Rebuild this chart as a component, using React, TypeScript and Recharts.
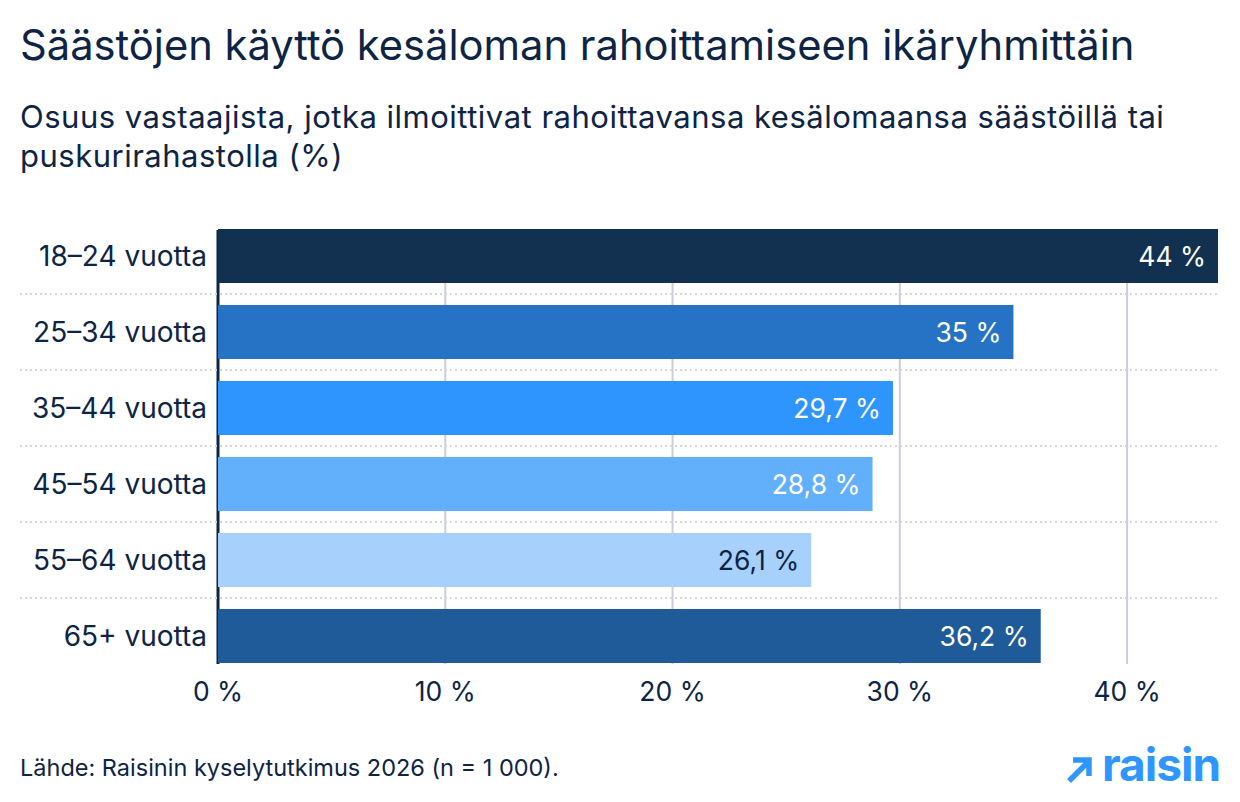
import { BarChart, Bar, XAxis, YAxis, CartesianGrid, Cell, LabelList } from 'recharts';

const categories = ['18–24 vuotta', '25–34 vuotta', '35–44 vuotta', '45–54 vuotta', '55–64 vuotta', '65+ vuotta'];
const shares = [44, 35, 29.7, 28.8, 26.1, 36.2];
const barColors = ['#12304f', '#2672c4', '#2d95fd', '#62affc', '#a7d0fd', '#1f5b99'];
const labelColors = ['#ffffff', '#ffffff', '#ffffff', '#ffffff', '#0d2444', '#ffffff'];
const xTicks = [0, 10, 20, 30, 40];

const data = categories.map((group, i) => ({ group, share: shares[i] }));

const TEXT = '#0d2444';
const FONT = 'Inter, "Noto Sans", sans-serif';
const BAND = 76;

const fmt = (v: number) => `${String(v).replace('.', ',')} %`;

// category label plus the dotted separator under its row
function GroupTick(props: any) {
  const { x, y, payload, index } = props;
  return (
    <g>
      <text x={x} y={y} dy="0.36em" textAnchor="end" fill={TEXT} fontSize={28} fontFamily={FONT}>
        {payload.value}
      </text>
      {index < categories.length - 1 && (
        <line x1={20} x2={1218} y1={y + BAND / 2} y2={y + BAND / 2} stroke="#d3d6dd" strokeWidth={2} strokeDasharray="2 3" />
      )}
    </g>
  );
}

function ValueLabel(props: any) {
  const { x, y, width, height, value, index } = props;
  return (
    <text
      x={x + width - 12}
      y={y + height / 2}
      dy="0.36em"
      textAnchor="end"
      fill={labelColors[index]}
      fontSize={26.5}
      fontFamily={FONT}
    >
      {fmt(value)}
    </text>
  );
}

export default function App() {
  return (
    <div style={{ position: 'absolute', left: 0, top: 0, width: 1240, height: 802, background: '#fff', fontFamily: FONT, color: TEXT }}>
      <div style={{ position: 'absolute', left: 20, top: 20, fontSize: 41.7, lineHeight: '50px', whiteSpace: 'nowrap' }}>
        Säästöjen käyttö kesäloman rahoittamiseen ikäryhmittäin
      </div>
      <div style={{ position: 'absolute', left: 20, top: 97, width: 1200, fontSize: 31, lineHeight: '39px', letterSpacing: 0.5 }}>
        Osuus vastaajista, jotka ilmoittivat rahoittavansa kesälomaansa säästöillä tai puskurirahastolla (%)
      </div>

      <BarChart
        width={1240}
        height={802}
        data={data}
        layout="vertical"
        margin={{ top: 218, right: 22, bottom: 98, left: 0 }}
        style={{ position: 'absolute', left: 0, top: 0 }}
      >
        <CartesianGrid horizontal={false} syncWithTicks y={230} height={434} stroke="#cbced9" strokeWidth={2} />
        <XAxis
          type="number"
          domain={[0, 44]}
          ticks={xTicks}
          tickFormatter={(v: number) => `${v} %`}
          axisLine={false}
          tickLine={false}
          tickSize={0}
          tickMargin={8}
          height={30}
          tick={{ fill: TEXT, fontSize: 26.5, fontFamily: FONT }}
        />
        <YAxis
          type="category"
          dataKey="group"
          width={218}
          axisLine={false}
          tickLine={false}
          tickSize={0}
          tickMargin={11}
          tick={<GroupTick />}
        />
        <CartesianGrid horizontal={false} verticalValues={[0]} y={230} height={434} stroke="#0d2444" strokeWidth={3} />
        <Bar dataKey="share" barSize={54} isAnimationActive={false}>
          {data.map((d, i) => (
            <Cell key={d.group} fill={barColors[i]} />
          ))}
          <LabelList dataKey="share" content={<ValueLabel />} />
        </Bar>
      </BarChart>

      <div style={{ position: 'absolute', left: 20, top: 754, fontSize: 23.5, lineHeight: '28px', whiteSpace: 'nowrap' }}>
        Lähde: Raisinin kyselytutkimus 2026 (n = 1 000).
      </div>
      <div style={{ position: 'absolute', left: 1064, top: 738, display: 'flex', alignItems: 'flex-end', color: '#2e96fe' }}>
        <svg width={30} height={30} viewBox="0 0 30 30" style={{ marginBottom: 6, marginRight: 8 }}>
          <path d="M5 27 L24 8 M9 6 H25 V22" stroke="#2e96fe" strokeWidth={5.5} fill="none" />
        </svg>
        <span style={{ fontSize: 46, fontWeight: 700, letterSpacing: -1, lineHeight: '52px' }}>raisin</span>
      </div>
    </div>
  );
}
